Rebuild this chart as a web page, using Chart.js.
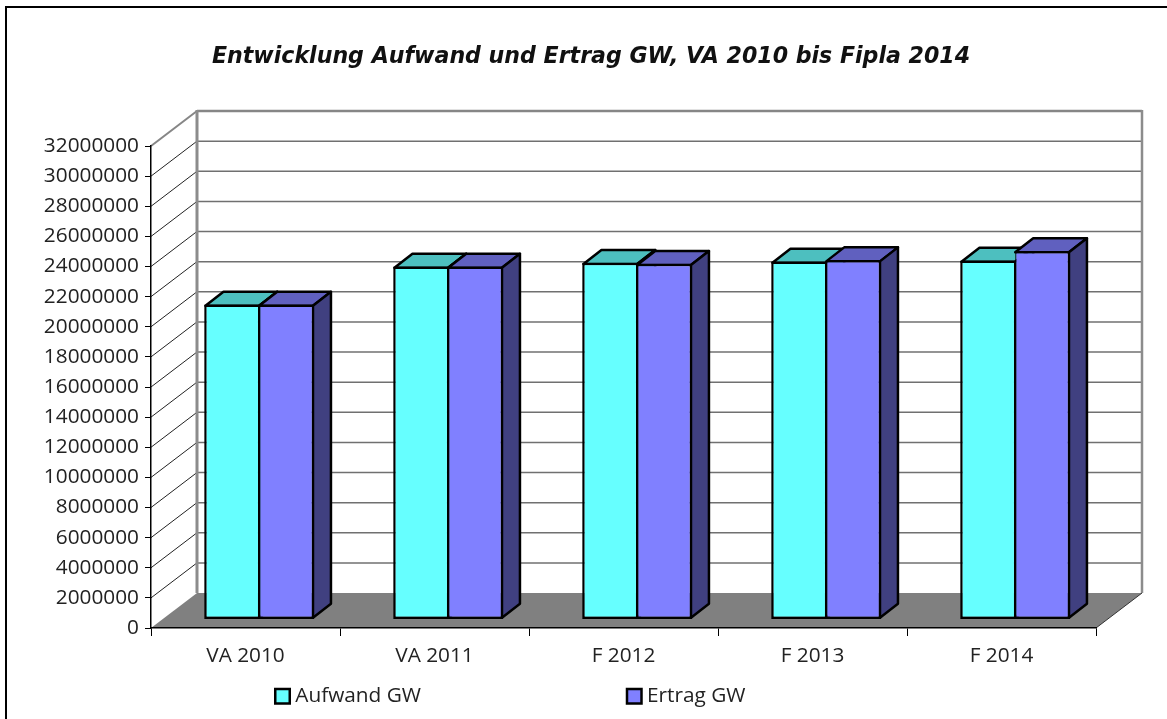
<!DOCTYPE html>
<html>
<head>
<meta charset="utf-8">
<title>Entwicklung Aufwand und Ertrag GW</title>
<script src="https://cdn.jsdelivr.net/npm/chart.js@4"></script>
<style>
  body { margin: 0; background: #fff; }
  canvas { display: block; }
</style>
</head>
<body>
<canvas id="chart-gw" width="1167" height="719"></canvas>
<script>
var categories = ["VA 2010", "VA 2011", "F 2012", "F 2013", "F 2014"];
var aufwand = [20910000, 23440000, 23680000, 23770000, 23830000];
var ertrag = [20910000, 23440000, 23620000, 23860000, 24460000];
var yMax = 32000000;
var yStep = 2000000;

var fontName = "'Open Sans'";
var titleFont = "'DejaVu Sans'";
var wallDx = 46, wallDy = 35;    // depth of the 3D box
var barDx = 18, barDy = 14;      // depth of one bar
var shiftX = 13.7, shiftY = 8.5; // bars stand a bit inside the floor

function poly(ctx, pts, fill, stroke, lw) {
  ctx.beginPath();
  ctx.moveTo(pts[0][0], pts[0][1]);
  for (var i = 1; i < pts.length; i++) ctx.lineTo(pts[i][0], pts[i][1]);
  ctx.closePath();
  if (fill) { ctx.fillStyle = fill; ctx.fill(); }
  if (stroke) { ctx.strokeStyle = stroke; ctx.lineWidth = lw; ctx.stroke(); }
}

function line(ctx, x1, y1, x2, y2, color, lw) {
  ctx.beginPath();
  ctx.moveTo(x1, y1);
  ctx.lineTo(x2, y2);
  ctx.strokeStyle = color;
  ctx.lineWidth = lw;
  ctx.stroke();
}

var box3d = {
  id: "box3d",
  afterLayout: function (chart) {
    // title sits right of the centre of the page
    chart.titleBlock.left += 25;
    chart.titleBlock.right += 25;
  },
  beforeDraw: function (chart) {
    var ctx = chart.ctx, a = chart.chartArea, y = chart.scales.y;
    ctx.save();
    // grid lines on side wall and back wall
    y.ticks.forEach(function (t) {
      var py = y.getPixelForValue(t.value);
      if (t.value === yMax || t.value === 0) return;
      line(ctx, a.left, py, a.left + wallDx, py - wallDy, "#222", 1);
      line(ctx, a.left + wallDx, py - wallDy, a.right + wallDx, py - wallDy, "#707070", 1.5);
    });
    // wall frame
    line(ctx, a.left, a.top, a.left + wallDx, a.top - wallDy, "#868686", 2);
    line(ctx, a.left + wallDx, a.top - wallDy, a.right + wallDx, a.top - wallDy, "#868686", 2.5);
    line(ctx, a.left + wallDx, a.top - wallDy - 1, a.left + wallDx, a.bottom - wallDy, "#8c8c8c", 3);
    line(ctx, a.right + wallDx, a.top - wallDy - 1, a.right + wallDx, a.bottom - wallDy, "#8c8c8c", 2.5);
    // floor
    poly(ctx, [[a.left, a.bottom], [a.left + wallDx, a.bottom - wallDy],
               [a.right + wallDx, a.bottom - wallDy], [a.right, a.bottom]], "#808080");
    line(ctx, a.right, a.bottom, a.right + wallDx, a.bottom - wallDy, "#333", 1);
    ctx.restore();
  },
  beforeDatasetsDraw: function (chart) {
    var ctx = chart.ctx;
    ctx.save();
    ctx.lineJoin = "round";
    chart.data.datasets.forEach(function (ds, i) {
      chart.getDatasetMeta(i).data.forEach(function (bar) {
        var l = bar.x - bar.width / 2 + shiftX + 1.25, r = bar.x + bar.width / 2 + shiftX - 1.25;
        if (i === 0) r += 1.25;
        if (i === 1) l -= 1.25;
        var t = bar.y - shiftY + 1.25, b = bar.base - shiftY - 1.25;
        poly(ctx, [[l, t], [l + barDx, t - barDy], [r + barDx, t - barDy], [r, t]], ds.topColor, "#000", 2.5);
        poly(ctx, [[r, t], [r + barDx, t - barDy], [r + barDx, b - barDy], [r, b]], ds.sideColor, "#000", 2.5);
      });
    });
    ctx.restore();
    // the library draws the front faces, moved onto the floor
    ctx.save();
    ctx.translate(shiftX, -shiftY);
  },
  afterDatasetsDraw: function (chart) {
    chart.ctx.restore();
  },
  afterDraw: function (chart) {
    var ctx = chart.ctx;
    ctx.save();
    // outer frame, runs off the right and bottom edge
    ctx.strokeStyle = "#000";
    ctx.lineWidth = 2;
    ctx.strokeRect(6, 7, 1300, 900);
    // legend
    var swatchX = [275.25, 627];
    ctx.font = "20.8px " + fontName;
    ctx.textBaseline = "middle";
    chart.data.datasets.forEach(function (ds, i) {
      ctx.fillStyle = ds.backgroundColor;
      ctx.fillRect(swatchX[i], 689, 14.5, 14.5);
      ctx.strokeStyle = "#000";
      ctx.lineWidth = 2.5;
      ctx.strokeRect(swatchX[i], 689, 14.5, 14.5);
      ctx.fillStyle = "#222";
      ctx.fillText(ds.label, swatchX[i] + 20, 696.5);
    });
    ctx.restore();
  }
};

var ctx = document.getElementById("chart-gw").getContext("2d");
var myChart = new Chart(ctx, {
  type: "bar",
  data: {
    labels: categories,
    datasets: [
      {
        label: "Aufwand GW",
        data: aufwand,
        backgroundColor: "#66ffff",
        topColor: "#4dbfbf",
        sideColor: "#4dbfbf",
        borderColor: "#000",
        borderWidth: { left: 2.5, top: 2.5, bottom: 2.5, right: 1.25 },
        borderSkipped: false
      },
      {
        label: "Ertrag GW",
        data: ertrag,
        backgroundColor: "#8080ff",
        topColor: "#6060bf",
        sideColor: "#404080",
        borderColor: "#000",
        borderWidth: { left: 1.25, top: 2.5, bottom: 2.5, right: 2.5 },
        borderSkipped: false
      }
    ]
  },
  plugins: [box3d],
  options: {
    responsive: false,
    animation: false,
    clip: false,
    layout: { padding: { left: 36, right: 71, top: 0, bottom: 40 } },
    plugins: {
      legend: { display: false },
      tooltip: { enabled: false },
      title: {
        display: true,
        text: "Entwicklung Aufwand und Ertrag GW, VA 2010 bis Fipla 2014",
        color: "#111",
        font: { family: titleFont, size: 22.1, weight: "bold", style: "italic", lineHeight: 1.2 },
        padding: { top: 44, bottom: 75.5 }
      }
    },
    scales: {
      x: {
        grid: { drawOnChartArea: false, color: "#000", tickLength: 8 },
        border: { color: "#000", width: 1.5 },
        ticks: { color: "#222", font: { family: fontName, size: 20.8 }, padding: 8, maxRotation: 0 },
        afterFit: function (axis) { axis.height = 51; }
      },
      y: {
        min: 0,
        max: yMax,
        grid: { drawOnChartArea: false, color: "#000", tickLength: 6 },
        border: { color: "#000", width: 1.5 },
        ticks: {
          stepSize: yStep,
          autoSkip: false,
          color: "#222",
          font: { family: fontName, size: 20.8 },
          padding: 6,
          callback: function (value) { return String(value); }
        },
        afterFit: function (axis) { axis.width = 115; }
      }
    },
    datasets: { bar: { categoryPercentage: 110 / 189, barPercentage: 1 } }
  }
});
</script>
</body>
</html>
